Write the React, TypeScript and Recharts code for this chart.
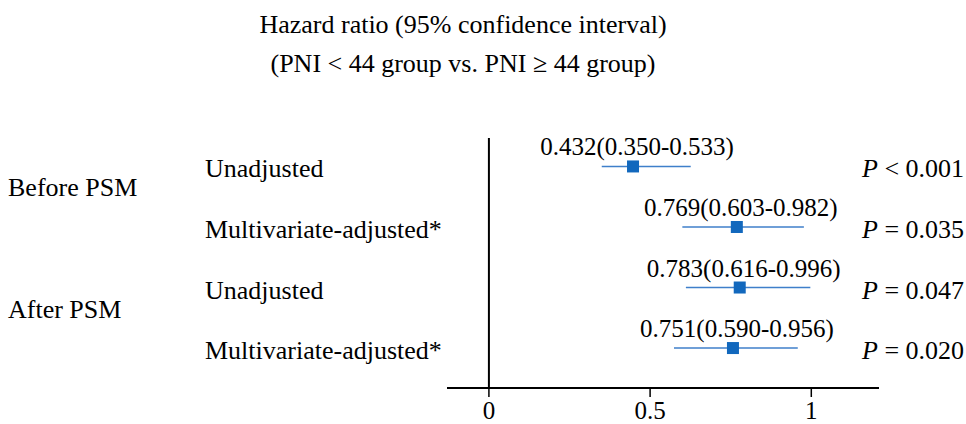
import React from 'react';
import { ScatterChart, Scatter, XAxis, YAxis, ReferenceLine } from 'recharts';

const rowLabels = ['Unadjusted', 'Multivariate-adjusted*', 'Unadjusted', 'Multivariate-adjusted*'];
const groupLabels = ['Before PSM', 'After PSM'];
const groupStartRow = [0, 2];
const hr = [0.447, 0.769, 0.778, 0.757];
const ciLow = [0.35, 0.6, 0.611, 0.574];
const ciHigh = [0.626, 0.977, 0.997, 0.958];
const hrText = ['0.432(0.350-0.533)', '0.769(0.603-0.982)', '0.783(0.616-0.996)', '0.751(0.590-0.956)'];
const pSign = ['<', '=', '=', '='];
const pValue = ['0.001', '0.035', '0.047', '0.020'];
const xTicks = [0, 0.5, 1];

const rows = hr.map((v, i) => ({ row: i, hr: v, lo: ciLow[i], hi: ciHigh[i], text: hrText[i] }));

const FONT = '"Liberation Serif", "Times New Roman", serif';
const MARKER = '#1268bd';
const LINE = '#3f7fca';

const Marker = (props: any) => {
  const { cx, cy, payload } = props;
  return (
    <g>
      <rect x={cx - 6} y={cy - 6} width={12} height={12} fill={MARKER} />
      <text x={cx + 4} y={cy - 11} textAnchor="middle" fontFamily={FONT} fontSize={25} fill="#000">
        {payload.text}
      </text>
    </g>
  );
};

const LeftTick = (props: any) => {
  const { y, payload } = props;
  const r = payload.value;
  const g = groupStartRow.indexOf(r);
  return (
    <g fontFamily={FONT} fontSize={26} fill="#000">
      <text x={205} y={y + 11}>{rowLabels[r]}</text>
      {g >= 0 && <text x={8} y={y + 30}>{groupLabels[g]}</text>}
    </g>
  );
};

const RightTick = (props: any) => {
  const { y, payload } = props;
  const r = payload.value;
  return (
    <text x={862} y={y + 11} fontFamily={FONT} fontSize={26} fill="#000">
      <tspan fontStyle="italic">P</tspan>
      <tspan>{` ${pSign[r]} ${pValue[r]}`}</tspan>
    </text>
  );
};

export default function App() {
  return (
    <div style={{ position: 'absolute', left: 0, top: 0, width: 966, height: 424, background: '#fff' }}>
      <svg width={966} height={80} style={{ position: 'absolute', left: 0, top: 0 }}>
        <text x={463} y={33} textAnchor="middle" fontFamily={FONT} fontSize={26} fill="#000">
          Hazard ratio (95% confidence interval)
        </text>
        <text x={463} y={72} textAnchor="middle" fontFamily={FONT} fontSize={26} fill="#000">
          (PNI &lt; 44 group vs. PNI ≥ 44 group)
        </text>
      </svg>
      <ScatterChart width={966} height={424} margin={{ top: 138, right: 0, bottom: 0, left: 0 }}>
        <XAxis
          type="number"
          dataKey="hr"
          domain={[-0.13, 1.21]}
          ticks={xTicks}
          height={36}
          tickSize={9}
          tickMargin={4}
          axisLine={{ stroke: '#000', strokeWidth: 2 }}
          tickLine={{ stroke: '#000', strokeWidth: 1.5 }}
          tick={{ fill: '#000', fontFamily: FONT, fontSize: 25 }}
        />
        <YAxis
          yAxisId="left"
          type="number"
          dataKey="row"
          domain={[-0.47, 3.66]}
          reversed
          ticks={[0, 1, 2, 3]}
          interval={0}
          width={447}
          axisLine={false}
          tickLine={false}
          tick={<LeftTick />}
        />
        <YAxis
          yAxisId="right"
          orientation="right"
          type="number"
          dataKey="row"
          domain={[-0.47, 3.66]}
          reversed
          ticks={[0, 1, 2, 3]}
          interval={0}
          width={87}
          axisLine={false}
          tickLine={false}
          tick={<RightTick />}
        />
        <ReferenceLine yAxisId="left" x={0} stroke="#000" strokeWidth={2} />
        {rows.map((d) => (
          <ReferenceLine
            key={d.row}
            yAxisId="left"
            segment={[{ x: d.lo, y: d.row }, { x: d.hi, y: d.row }]}
            stroke={LINE}
            strokeWidth={1.6}
          />
        ))}
        <Scatter yAxisId="left" data={rows} shape={<Marker />} isAnimationActive={false} />
        <Scatter yAxisId="right" data={rows} shape={() => null} isAnimationActive={false} />
      </ScatterChart>
    </div>
  );
}
